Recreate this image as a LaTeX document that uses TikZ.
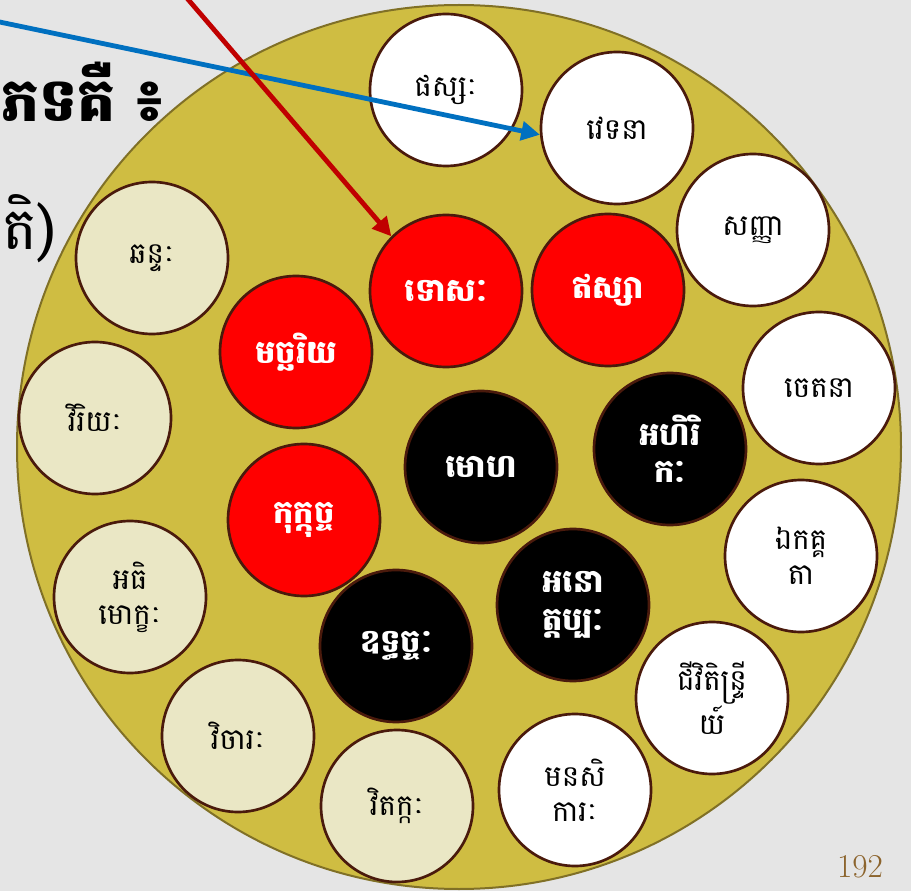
\documentclass[tikz,border=0pt]{standalone}
\usepackage{fontspec}
\usepackage{tikz}
\usetikzlibrary{arrows.meta}
\newfontfamily\khmer[Script=Khmer]{Battambang}
\definecolor{slidegrey}{RGB}{229,229,229}
\definecolor{gold}{RGB}{207,189,66}
\definecolor{goldedge}{RGB}{128,112,38}
\definecolor{ringbrown}{RGB}{74,26,12}
\definecolor{cream}{RGB}{234,231,197}
\definecolor{pureRed}{RGB}{255,0,0}
\definecolor{arrowblue}{RGB}{0,112,192}
\definecolor{arrowred}{RGB}{192,0,0}
\definecolor{pagebrown}{RGB}{140,100,45}

\begin{document}
\begin{tikzpicture}[x=0.75pt,y=0.75pt,yscale=-1,xscale=1,
  item/.style={circle, draw=ringbrown, line width=2pt, minimum size=114pt, inner sep=0pt, align=center, font=\khmer\fontsize{22}{26}\selectfont},
  plain/.style={item, fill=white},
  soft/.style={item, fill=cream},
  hot/.style={item, fill=pureRed, text=white, font=\khmer\bfseries\fontsize{24}{28}\selectfont},
  dark/.style={item, fill=black, text=white, font=\khmer\bfseries\fontsize{24}{28}\selectfont},
  pointer/.style={line width=3.6pt, -{Triangle[length=14pt,width=14pt]}}]
%set diagram size 911 x 891
\useasboundingbox (0,0) rectangle (911,891);
\fill [slidegrey] (0,0) rectangle (911,891);

% Text Node
\node (titleA) [anchor=base west, inner sep=0pt, font=\khmer\bfseries\fontsize{45}{50}\selectfont] at (1,122) {ភទគឺ ៖};
% Text Node
\node (titleB) [anchor=base west, inner sep=0pt, font=\khmer\fontsize{44}{50}\selectfont] at (2,250) {តិ)};

%Shape: Circle
\draw [fill=gold, draw=goldedge, line width=1.5pt] (459,447) circle [radius=331.5pt];

%Shape: Circle (white)
\node (phassa) [plain] at (446,90) {ផស្សៈ};
\node (vedana) [plain] at (617,128) {វេទនា};
\node (sanna) [plain] at (753,230) {សញ្ញា};
\node (cetana) [plain] at (819,388) {ចេតនា};
\node (ekaggata) [plain] at (801,556) {ឯកគ្គ\\តា};
\node (jivita) [plain] at (712,698) {ជីវិតិន្ទ្រី\\យ៍};
\node (manasikara) [plain] at (575,790) {មនសិ\\ការៈ};

%Shape: Circle (cream)
\node (chanda) [soft] at (152,258) {ឆន្ទៈ};
\node (viriya) [soft] at (95,418) {វិរិយៈ};
\node (adhimokkha) [soft] at (130,597) {អធិ\\មោក្ខៈ};
\node (vicara) [soft] at (238,736) {វិចារៈ};
\node (vitakka) [soft] at (397,806) {វិតក្កៈ};

%Shape: Circle (red)
\node (dosa) [hot] at (446,291) {ទោសៈ};
\node (issa) [hot] at (608,290) {ឥស្សា};
\node (macchariya) [hot] at (296,352) {មច្ឆរិយ};
\node (kukkucca) [hot] at (304,520) {កុក្កុច្ច};

%Shape: Circle (black)
\node (moha) [dark] at (481,467) {មោហ};
\node (ahirika) [dark] at (670,449) {អហិរិ\\កៈ};
\node (anottappa) [dark] at (573,605) {អនោ\\ត្តប្បៈ};
\node (uddhacca) [dark] at (396,646) {ឧទ្ធច្ចៈ};

%Straight Lines
\coordinate (blueFrom) at (-10,20);
\coordinate (redFrom) at (186,-3);
\draw [pointer, arrowblue] (blueFrom) -- (vedana.185);
\draw [pointer, arrowred] (redFrom) -- (dosa.135);

% Text Node
\node (pagenum) [text=pagebrown, font=\fontsize{25}{28}\selectfont] at (860,867) {192};

\end{tikzpicture}
\end{document}
